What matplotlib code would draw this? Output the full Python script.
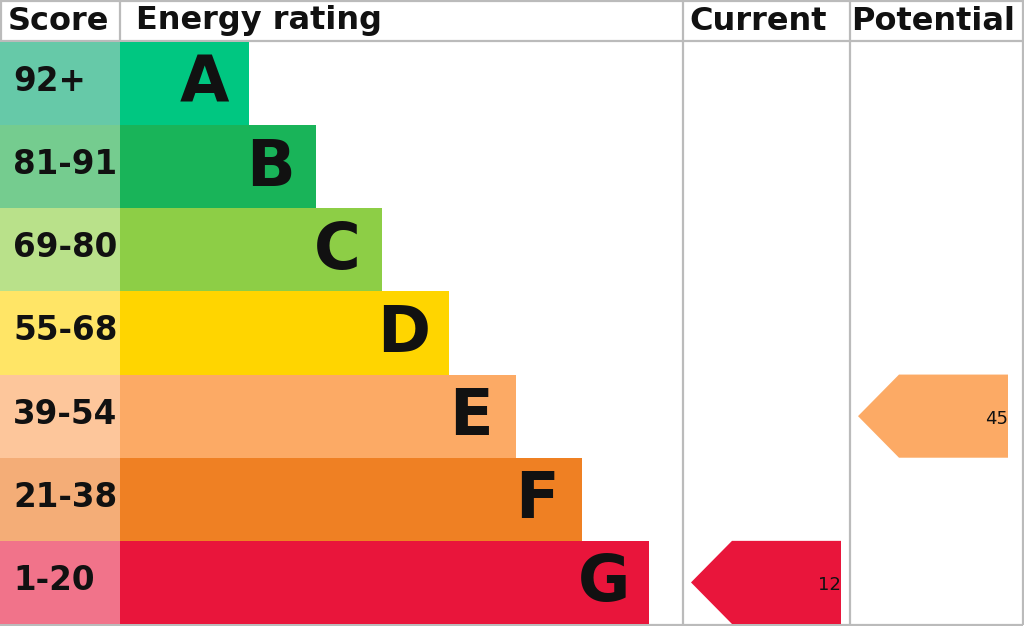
import matplotlib
matplotlib.use("Agg")
import matplotlib.pyplot as plt
from matplotlib.patches import Rectangle, Polygon

plt.rcParams["font.family"] = ["DejaVu Sans"]

# rating bands, top to bottom
bands = ["A", "B", "C", "D", "E", "F", "G"]
score_ranges = ["92+", "81-91", "69-80", "55-68", "39-54", "21-38", "1-20"]
band_colors = ["#00c781", "#19b459", "#8dce46", "#ffd500", "#fcaa65", "#ef8023", "#e9153b"]
score_colors = ["#66c9a8", "#75cc8f", "#b9e18a", "#ffe566", "#fdc69b", "#f4ad77", "#f1738a"]
headers = ["Score", "Energy rating", "Current", "Potential"]

current_score = 12
potential_score = 45


def band_of(score):
    lows = [92, 81, 69, 55, 39, 21, 1]
    for i, lo in enumerate(lows):
        if score >= lo:
            return i
    return len(lows) - 1


W, H = 1024, 626
fig = plt.figure(figsize=(W / 100, H / 100), dpi=100)
ax = fig.add_axes([0, 0, 1, 1])
ax.set_xlim(0, W)
ax.set_ylim(H, 0)
ax.axis("off")

col_x = [0.5, 120, 683, 850, 1023]
head_h = 42
row_h = (624 - head_h) / 7
bar_min, bar_step = 129, 66.67
grid = "#bbbbbb"
ink = "#111111"

# header
head_x = [8, 136, 689, 851]
for i, name in enumerate(headers):
    ax.text(head_x[i], head_h / 2, name, ha="left", va="center",
            fontsize=23, fontweight="bold", color=ink)

# rows
for i, band in enumerate(bands):
    top = head_h + i * row_h
    mid = top + row_h / 2
    ax.add_patch(Rectangle((0, top), col_x[1], row_h,
                           facecolor=score_colors[i], edgecolor="none", zorder=2))
    ax.text(13, mid - 2, score_ranges[i], ha="left", va="center",
            fontsize=23.5, fontweight="bold", color=ink, zorder=3)
    bw = bar_min + bar_step * i
    ax.add_patch(Rectangle((col_x[1], top), bw, row_h,
                           facecolor=band_colors[i], edgecolor="none", zorder=2))
    ax.text(col_x[1] + bw - 45, mid + 1, band, ha="center", va="center",
            fontsize=46, fontweight="bold", color=ink, zorder=3)


def arrow(col, score):
    idx = band_of(score)
    top = head_h + idx * row_h
    left = col_x[col]
    tip, body, right = left + 8, left + 49, left + 158
    pts = [(tip, top + row_h / 2), (body, top), (right, top),
           (right, top + row_h), (body, top + row_h)]
    ax.add_patch(Polygon(pts, closed=True, facecolor=band_colors[idx],
                         edgecolor="none", zorder=2))
    ax.text(right, top + row_h / 2 + 3, str(score), ha="right", va="center",
            fontsize=13, color=ink, zorder=3)


arrow(2, current_score)
arrow(3, potential_score)

# grid lines (underneath the coloured cells)
for x in col_x:
    ax.plot([x, x], [0, 625], color=grid, lw=1.6, solid_capstyle="butt", zorder=1)
for y in (0.8, head_h - 0.8, 625):
    ax.plot([0, col_x[-1]], [y, y], color=grid, lw=1.6, solid_capstyle="butt", zorder=1)

fig.savefig("out.png", dpi=100)
